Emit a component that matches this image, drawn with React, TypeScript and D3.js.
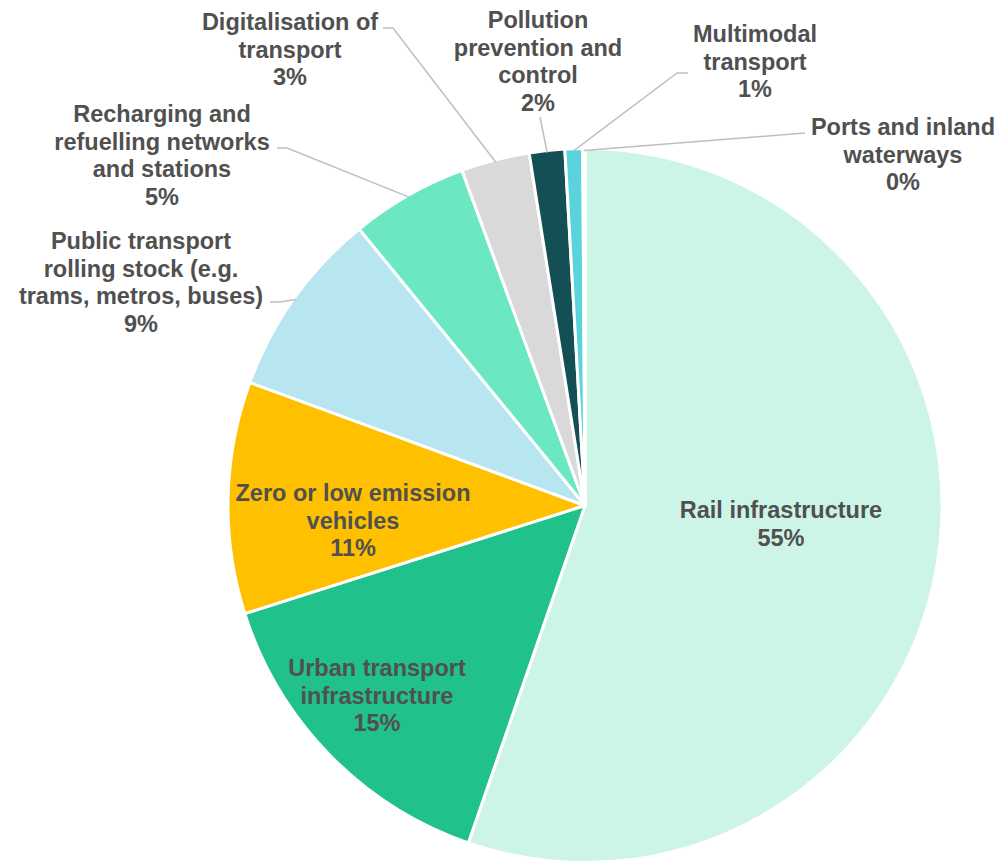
import React from "react";
import * as d3 from "d3";

const categories = [
  "Rail infrastructure",
  "Urban transport infrastructure",
  "Zero or low emission vehicles",
  "Public transport rolling stock (e.g. trams, metros, buses)",
  "Recharging and refuelling networks and stations",
  "Digitalisation of transport",
  "Pollution prevention and control",
  "Multimodal transport",
  "Ports and inland waterways",
];
const values = [55.3, 14.8, 10.5, 8.5, 5.3, 3.1, 1.6, 0.8, 0.1];
const pctLabels = ["55%", "15%", "11%", "9%", "5%", "3%", "2%", "1%", "0%"];
const colors = ["#ccf5e7", "#20c18b", "#ffc000", "#b7e5f0", "#6be7c1", "#d9d9d9", "#134f54", "#5ad3dc", "#2f6f9f"];

const labelLines = [
  ["Rail infrastructure"],
  ["Urban transport", "infrastructure"],
  ["Zero or low emission", "vehicles"],
  ["Public transport", "rolling stock (e.g.", "trams, metros, buses)"],
  ["Recharging and", "refuelling networks", "and stations"],
  ["Digitalisation of", "transport"],
  ["Pollution", "prevention and", "control"],
  ["Multimodal", "transport"],
  ["Ports and inland", "waterways"],
];
const labelPos: [number, number][] = [
  [781, 518],
  [377, 676],
  [353, 501],
  [141, 249],
  [162, 122],
  [290, 30],
  [538, 28],
  [755, 42],
  [903, 135],
];
const leaders: ([number, number, number] | null)[] = [
  null, null, null,
  [270, 302, 280],
  [277, 148, 287],
  [383, 28, 393],
  [540, 117, 540],
  [688, 73, 677],
  [805, 133, 805],
];

const W = 1002, H = 863;
const cx = 585, cy = 505.5, R = 357;
const lineH = 27.5;

export default function App() {
  const pie = d3.pie<number>().sort(null).value((d) => d).startAngle(0).endAngle(2 * Math.PI);
  const arcs = pie(values);
  const arc = d3.arc<d3.PieArcDatum<number>>().innerRadius(0).outerRadius(R);

  return (
    <svg width={W} height={H} style={{ position: "absolute", left: 0, top: 0 }}
      fontFamily="'Liberation Sans', Arial, sans-serif">
      <rect width={W} height={H} fill="#ffffff" />
      <g transform={`translate(${cx},${cy})`}>
        {arcs.map((a, i) => (
          <path key={i} d={arc(a) || ""} fill={colors[i]} stroke="#ffffff" strokeWidth={3} strokeLinejoin="round" />
        ))}
      </g>
      {arcs.map((a, i) => {
        const ld = leaders[i];
        if (!ld) return null;
        const mid = (a.startAngle + a.endAngle) / 2;
        const ex = cx + (R - 2) * Math.sin(mid);
        const ey = cy - (R - 2) * Math.cos(mid);
        const pts = [[ld[0], ld[1]], [ld[2], ld[1]], [ex, ey]];
        return (
          <polyline key={"l" + i} points={pts.map((p) => p.join(",")).join(" ")}
            fill="none" stroke="#bfbfbf" strokeWidth={1.5} />
        );
      })}
      {labelLines.map((lines, i) => {
        const [x, y] = labelPos[i];
        const all = [...lines, pctLabels[i]];
        return (
          <text key={"t" + i} x={x} y={y} textAnchor="middle" fontSize={23.5} fontWeight="bold" fill="#505050">
            {all.map((t, j) => (
              <tspan key={j} x={x} y={y + j * lineH}>{t}</tspan>
            ))}
          </text>
        );
      })}
    </svg>
  );
}
